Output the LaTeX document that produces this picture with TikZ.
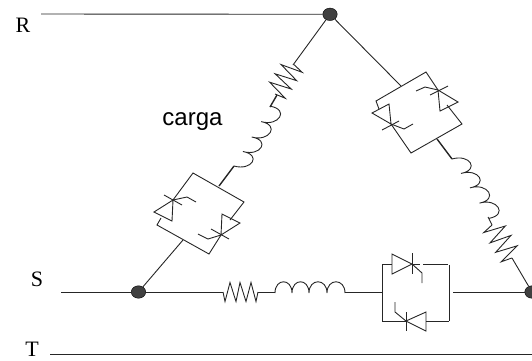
\documentclass[tikz,border=0pt]{standalone}
\usepackage{fontspec}
\usetikzlibrary{shapes.geometric}
\setmainfont{Liberation Serif}
\newfontfamily\labelsans{Liberation Sans}
\tikzset{
  wire/.style={line width=0.9pt,black!85},
  thick wire/.style={line width=1.4pt,black!85},
  dotnode/.style={ellipse,fill=black!75,draw=black,line width=0.4pt,minimum width=14.5pt,minimum height=12.5pt,inner sep=0pt},
  phase/.style={font=\fontsize{22}{24}\selectfont,inner sep=0pt},
  lab/.style={font=\labelsans\fontsize{24}{26}\selectfont,inner sep=0pt,anchor=base}
}
\newcommand{\myres}{\draw[wire,line join=miter] (0,0) -- (2,9.5) -- (7,-9.5) -- (13,9.5) -- (17,-9.5) -- (23,9.5) -- (28,-9.5) -- (33,9.5) -- (35,0);}
\newcommand{\mycoil}{\draw[wire] (0,0) .. controls (0,-15) and (17,-15) .. (17,0)
  .. controls (17,-15) and (34,-15) .. (34,0)
  .. controls (34,-15) and (52,-15) .. (52,0)
  .. controls (52,-15) and (70,-15) .. (70,0);}
\newcommand{\myslantcoil}{\draw[wire] (0,0) .. controls (5,-18) and (24,-18) .. (17,0)
  .. controls (22,-18) and (41,-18) .. (34,0)
  .. controls (39,-18) and (59,-18) .. (52,0)
  .. controls (57,-18) and (77,-18) .. (70,0);}
\begin{document}
\begin{tikzpicture}[x=1pt,y=-1pt]
\useasboundingbox (0,0) rectangle (532,360);
% junctions and free ends
\coordinate (Rs) at (41,14);
\coordinate (Ss) at (61,292);
\coordinate (Ts) at (50,354);
\coordinate (Te) at (532,354);
\node[dotnode] (nR) at (330,14.3) {};
\node[dotnode] (nS) at (138.5,292) {};
\begin{scope}
\clip (0,0) rectangle (532,360);
\node[dotnode] (nE) at (532,292) {};
\end{scope}
\draw[wire] (Rs) -- (nR);
\draw[wire] (Ss) -- (nS);
\draw[wire] (Ts) -- (Te);
% labels
\node[phase] (lR) at (23,25) {R};
\node[phase] (lS) at (37,279) {S};
\node[phase] (lT) at (32,349.5) {T};
\node[lab] (lc) at (192.5,125.5) {carga};
% bottom branch
\draw[wire] (nS) -- (223,292);
\begin{scope}[shift={(223,292)}]\myres\end{scope}
\draw[wire] (258,292) -- (275,292);
\begin{scope}[shift={(275,293)}]\mycoil\end{scope}
\draw[thick wire] (345,292.5) -- (362,292.5);
\draw[wire] (362,292) -- (382,292);
\draw[wire] (382,264) -- (382,321);
\draw[wire] (449,265) -- (449,321);
\draw[wire] (453,292) -- (nE);
\draw[wire] (382,264) -- (392,264);
\draw[wire] (392,254) -- (392,274) -- (412,264) -- cycle;
\draw[wire] (412,253) -- (412,274);
\draw[wire] (412,264) -- (420,264);
\draw[wire] (412,264) -- (422,273) -- (422,283);
\draw[wire] (423,264) -- (448,264);
\draw[wire] (382,321) -- (406,321);
\draw[wire] (395,302) -- (395,312) -- (406,321);
\draw[wire] (426,312) -- (426,331) -- (406,321) -- cycle;
\draw[wire] (406,312) -- (406,331);
\draw[wire] (426,321) -- (449,321);
% left branch
\draw[wire] (nS) -- (183,240);
\draw[wire] (173,200) -- (193,173) -- (244,202) -- (230,220);
\draw[wire] (161,218) -- (157,225) -- (209,254) -- (221,235);
\draw[wire] (154,212) -- (172,221) -- (173,200) -- cycle;
\draw[wire] (164,195) -- (182,205);
\draw[wire] (173,200) -- (187,197) -- (196,202);
\draw[wire] (222,214) -- (240,223) -- (221,235) -- cycle;
\draw[wire] (211,229) -- (229,239);
\draw[wire] (221,235) -- (208,239) -- (198,234);
\draw[thick wire] (219,186) -- (234,166);
\begin{scope}[shift={(234,166)},rotate=58.6,yscale=-1]\myslantcoil\end{scope}
\draw[thick wire] (270,107) -- (277,95);
\begin{scope}[shift={(275,94)},rotate=57,yscale=1.15]\myres\end{scope}
\draw[wire] (293,65) -- (nR);
% right branch
\draw[wire] (nR) -- (401,86);
\draw[wire] (379,109) -- (376,101) -- (426,72) -- (438,90);
\draw[wire] (391,124) -- (411,153) -- (462,124) -- (447,105);
\draw[wire] (440,111) -- (458,102) -- (438,90) -- cycle;
\draw[wire] (430,95) -- (448,86);
\draw[wire] (438,90) -- (425,87) -- (416,91);
\draw[wire] (372,113) -- (389,104) -- (391,124) -- cycle;
\draw[wire] (382,130) -- (399,121);
\draw[wire] (391,124) -- (404,129) -- (413,124);
\draw[thick wire] (437,139) -- (452,159);
\begin{scope}[shift={(452,159)},rotate=-58]\myslantcoil\end{scope}
\draw[wire] (488,217) -- (492,225);
\begin{scope}[shift={(492,225)},rotate=-59,xscale=1.1,yscale=1.15]\myres\end{scope}
\draw[wire] (512,258) -- (nE);
\end{tikzpicture}
\end{document}
